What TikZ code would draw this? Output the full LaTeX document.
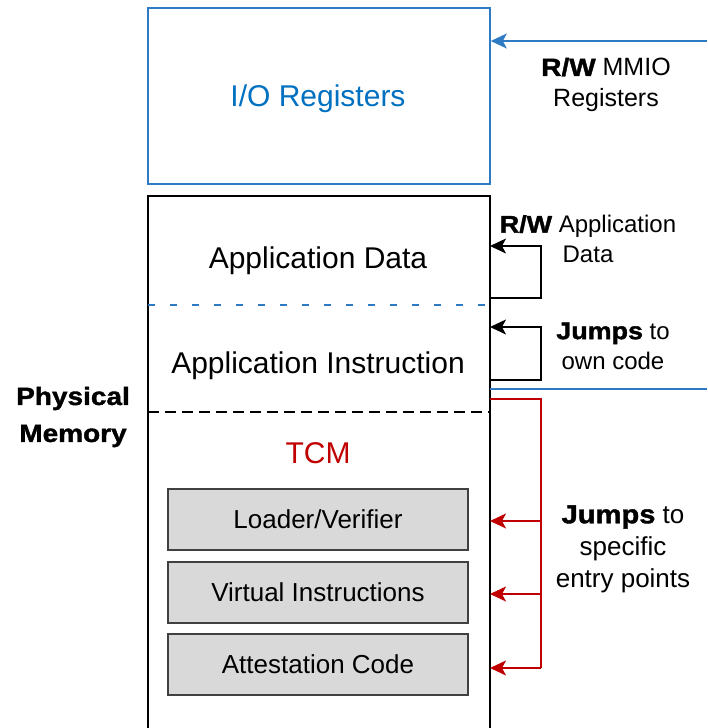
\documentclass[tikz,border=0pt]{standalone}
\usepackage{fontspec}
\setmainfont{Liberation Sans}
\newfontfamily\heavy{Liberation Sans Bold}[FakeStretch=1.12,FakeBold=1.5]
\usetikzlibrary{arrows.meta}
\definecolor{ioblue}{HTML}{0070C0}
\definecolor{edgeblue}{HTML}{2E7BC4}
\definecolor{tcmred}{HTML}{C00000}
\definecolor{boxgray}{HTML}{D9D9D9}
\definecolor{boxedge}{HTML}{404040}
\tikzset{
  region/.style={draw=black, line width=1.6pt},
  modbox/.style={draw=boxedge, fill=boxgray, line width=1.8pt,
    minimum width=300pt, minimum height=61pt, inner sep=0pt,
    font=\fontsize{26}{30}\selectfont},
  bigtext/.style={font=\fontsize{30}{34}\selectfont, inner sep=0pt},
  sidetext/.style={align=center, inner sep=0pt},
  link/.style={line width=1.5pt, -{Stealth[length=16pt,width=15pt,inset=4pt]}},
}
\begin{document}
\begin{tikzpicture}[x=1pt,y=-1pt]
\useasboundingbox (0,0) rectangle (707,728);

% I/O register block
\node[draw=edgeblue, line width=1.6pt, minimum width=342pt, minimum height=176pt,
  inner sep=0pt] (io) at (319,96) {};
\node[bigtext, text=ioblue] (iotext) at (318,99) {I/O Registers};

% physical memory column (open towards the bottom)
\coordinate (memNW) at (148,196);
\coordinate (memNE) at (490,196);
\coordinate (memSW) at (148,728);
\coordinate (memSE) at (490,728);
\draw[region] (memSW) -- (memNW) -- (memNE) -- (memSE);

% region separators
\coordinate (sepAL) at (148,305);
\coordinate (sepAR) at (490,305);
\draw[edgeblue, line width=2.6pt, dash pattern=on 7pt off 15pt] (sepAL) -- (sepAR);
\coordinate (sepBL) at (148,412);
\coordinate (sepBR) at (490,412);
\draw[black, line width=1.6pt, dash pattern=on 11pt off 6pt] (sepBL) -- (sepBR);

% region labels
\node[bigtext] (appdata) at (318,261) {Application Data};
\node[bigtext] (appinstr) at (318,366) {Application Instruction};
\node[bigtext, text=tcmred] (tcm) at (318,453) {TCM};

% TCM modules
\node[modbox] (loader) at (318,519.5) {Loader/Verifier};
\node[modbox] (virt) at (318,592.5) {Virtual Instructions};
\node[modbox] (attest) at (318,664.5) {Attestation Code};

% side caption
\node[sidetext, font=\heavy\fontsize{25}{37}\selectfont] (phys) at (73,417)
  {Physical\\Memory};

% MMIO access
\coordinate (mmioSrc) at (707,41);
\draw[link, edgeblue] (mmioSrc) -- (io.east |- mmioSrc);
\node[sidetext, font=\fontsize{25}{31}\selectfont] (mmioText) at (606,85)
  {{\heavy R/W} MMIO\\Registers};

% data read/write loop
\coordinate (dataOut) at (490,298);
\coordinate (dataIn) at (490,246);
\draw[link, black] (dataOut) -- ++(51,0) |- (dataIn);
\node[sidetext, font=\fontsize{24}{30}\selectfont] (dataText) at (588,239)
  {{\heavy R/W} Application\\Data};

% own-code jump loop
\coordinate (ownOut) at (490,380);
\coordinate (ownIn) at (490,327);
\draw[link, black] (ownOut) -- ++(51,0) |- (ownIn);
\node[sidetext, font=\fontsize{24}{30}\selectfont] (ownText) at (613,346)
  {{\heavy Jumps} to\\own code};

% boundary line
\coordinate (bndL) at (490,389);
\coordinate (bndR) at (707,389);
\draw[edgeblue, line width=1.2pt] (bndL) -- (bndR);

% entry-point jumps into the TCM
\coordinate (tcmOut) at (490,399);
\coordinate (tcmBus) at (541,399);
\coordinate (entryA) at (490,521);
\coordinate (entryB) at (490,594);
\coordinate (entryC) at (490,668);
\draw[tcmred, line width=1.5pt] (tcmOut) -- (tcmBus) -- (tcmBus |- entryC);
\draw[link, tcmred] (tcmBus |- entryA) -- (entryA);
\draw[link, tcmred] (tcmBus |- entryB) -- (entryB);
\draw[link, tcmred] (tcmBus |- entryC) -- (entryC);
\node[sidetext, font=\fontsize{26}{32}\selectfont] (entryText) at (623,549)
  {{\heavy Jumps} to\\specific\\entry points};
\end{tikzpicture}
\end{document}
